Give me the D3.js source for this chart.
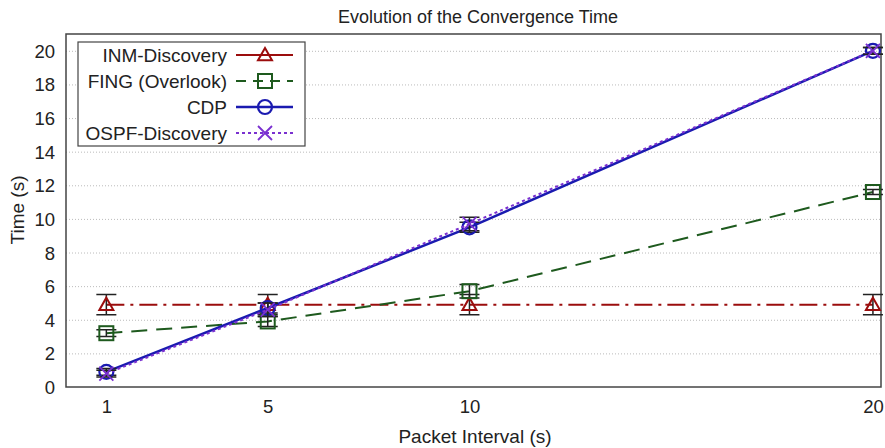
<!DOCTYPE html>
<html lang="en">
<head>
<meta charset="utf-8">
<title>Evolution of the Convergence Time</title>
<script src="https://cdn.jsdelivr.net/npm/d3@7"></script>
<style>
  body { margin: 0; background: #fff; }
  text { font-family: "Liberation Sans", Arial, sans-serif; fill: #222; }
  .grid line { stroke: #bbbbbb; stroke-width: 1px; stroke-dasharray: 1,2; }
  .grid path { display: none; }
  .axis path, .axis line { display: none; }
  .axis text { font-size: 18.5px; }
</style>
</head>
<body>
<svg width="885" height="448"></svg>
<script>
// data
const intervals = [1, 5, 10, 20];
const xTicks = [1, 5, 10, 20];
const yTicks = [0, 2, 4, 6, 8, 10, 12, 14, 16, 18, 20];

const inmValues  = [4.9, 4.9, 4.9, 4.9];
const inmErr     = [0.6, 0.6, 0.6, 0.6];
const fingValues = [3.2, 3.9, 5.7, 11.6];
const fingErr    = [0.2, 0.3, 0.4, 0.15];
const cdpValues  = [0.9, 4.7, 9.5, 20.0];
const cdpErr     = [0.2, 0.3, 0.3, 0.2];
const ospfValues = [0.8, 4.6, 9.7, 20.0];
const ospfErr    = [0.2, 0.4, 0.4, 0.2];

const series = [
  {name: "INM-Discovery",   v: inmValues,  e: inmErr,  color: "#9b0d0d", dash: "18,6,3,6", mark: "triangle", width: 2},
  {name: "FING (Overlook)", v: fingValues, e: fingErr, color: "#1e5a1e", dash: "16,9",     mark: "square",   width: 2},
  {name: "CDP",             v: cdpValues,  e: cdpErr,  color: "#1a1ab0", dash: null,       mark: "circle",   width: 2.5},
  {name: "OSPF-Discovery",  v: ospfValues, e: ospfErr, color: "#7a30d0", dash: "3,3",      mark: "cross",    width: 2}
];

const svg = d3.select("svg");
const x = d3.scaleLinear().domain([0, 20.2]).range([66, 881]);
const y = d3.scaleLinear().domain([0, 21]).range([387, 34]);

// grid
svg.append("g").attr("class", "grid")
  .attr("transform", "translate(66,0)")
  .call(d3.axisLeft(y).tickValues(yTicks.slice(1)).tickFormat("").tickSize(-815));

// axes
svg.append("g").attr("class", "axis")
  .attr("transform", "translate(59,0)")
  .call(d3.axisLeft(y).tickValues(yTicks).tickSize(0).tickPadding(4))
  .selectAll("text").attr("dy", "0.35em");

svg.append("g").attr("class", "axis")
  .attr("transform", "translate(0,396)")
  .call(d3.axisBottom(x).tickValues(xTicks).tickSize(0).tickPadding(4));

// frame
svg.append("rect")
  .attr("x", 66).attr("y", 34).attr("width", 815).attr("height", 353)
  .attr("fill", "none").attr("stroke", "#444").attr("stroke-width", 1.5);

// titles
svg.append("text").attr("x", 478).attr("y", 23).attr("text-anchor", "middle")
  .style("font-size", "18px").text("Evolution of the Convergence Time");
svg.append("text").attr("x", 475).attr("y", 443).attr("text-anchor", "middle")
  .style("font-size", "19px").text("Packet Interval (s)");
svg.append("text").attr("transform", "translate(24,210) rotate(-90)")
  .attr("text-anchor", "middle").style("font-size", "19px").text("Time (s)");

function drawMarker(g, kind, cx, cy, color) {
  const s = 7;
  if (kind === "triangle") {
    g.append("path").attr("d", `M${cx},${cy - s} L${cx + s},${cy + s * 0.75} L${cx - s},${cy + s * 0.75} Z`)
      .attr("fill", "none").attr("stroke", color).attr("stroke-width", 2);
  } else if (kind === "square") {
    g.append("rect").attr("x", cx - s).attr("y", cy - s).attr("width", 2 * s).attr("height", 2 * s)
      .attr("fill", "none").attr("stroke", color).attr("stroke-width", 2);
  } else if (kind === "circle") {
    g.append("circle").attr("cx", cx).attr("cy", cy).attr("r", s)
      .attr("fill", "none").attr("stroke", color).attr("stroke-width", 2.2);
  } else {
    g.append("path").attr("d", `M${cx - s},${cy - s} L${cx + s},${cy + s} M${cx - s},${cy + s} L${cx + s},${cy - s}`)
      .attr("stroke", color).attr("stroke-width", 1.8);
  }
}

const plot = svg.append("g");
series.forEach(sr => {
  const pts = intervals.map((t, i) => ({t: t, v: sr.v[i], e: sr.e[i]}));
  const line = d3.line().x(d => x(d.t)).y(d => y(d.v));
  plot.append("path").datum(pts).attr("d", line)
    .attr("fill", "none").attr("stroke", sr.color).attr("stroke-width", sr.width)
    .attr("stroke-dasharray", sr.dash);
  // error bars
  pts.forEach(d => {
    const cx = x(d.t), y1 = y(d.v + d.e), y2 = y(d.v - d.e);
    plot.append("path")
      .attr("d", `M${cx},${y1} L${cx},${y2} M${cx - 10},${y1} L${cx + 10},${y1} M${cx - 10},${y2} L${cx + 10},${y2}`)
      .attr("stroke", "#222").attr("stroke-width", 1.5).attr("fill", "none");
  });
  pts.forEach(d => drawMarker(plot, sr.mark, x(d.t), y(d.v), sr.color));
});

// legend
const legend = svg.append("g");
legend.append("rect").attr("x", 78).attr("y", 42).attr("width", 227).attr("height", 104)
  .attr("fill", "#fff").attr("stroke", "#444").attr("stroke-width", 1.2);
series.forEach((sr, i) => {
  const cy = 55 + i * 26;
  legend.append("text").attr("x", 227).attr("y", cy).attr("dy", "0.35em")
    .attr("text-anchor", "end").style("font-size", "19px").text(sr.name);
  legend.append("line").attr("x1", 236).attr("x2", 293).attr("y1", cy).attr("y2", cy)
    .attr("stroke", sr.color).attr("stroke-width", sr.width)
    .attr("stroke-dasharray", sr.mark === "triangle" ? null : (sr.mark === "square" ? "10,7" : sr.dash));
  drawMarker(legend, sr.mark, 265, cy, sr.color);
});
</script>
</body>
</html>
